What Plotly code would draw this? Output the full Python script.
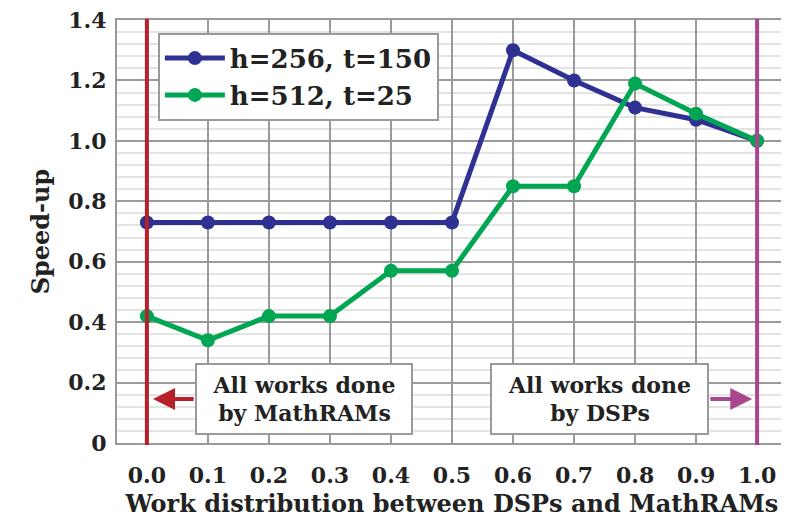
import plotly.graph_objects as go

x_vals = [0.0, 0.1, 0.2, 0.3, 0.4, 0.5, 0.6, 0.7, 0.8, 0.9, 1.0]
speedup_h256 = [0.73, 0.73, 0.73, 0.73, 0.73, 0.73, 1.30, 1.20, 1.11, 1.07, 1.00]
speedup_h512 = [0.42, 0.34, 0.42, 0.42, 0.57, 0.57, 0.85, 0.85, 1.19, 1.09, 1.00]
series_names = ["h=256, t=150", "h=512, t=25"]
x_ticklabels = ["0.0", "0.1", "0.2", "0.3", "0.4", "0.5", "0.6", "0.7", "0.8", "0.9", "1.0"]
y_tickvals = [0, 0.2, 0.4, 0.6, 0.8, 1.0, 1.2, 1.4]
y_ticklabels = ["0", "0.2", "0.4", "0.6", "0.8", "1.0", "1.2", "1.4"]

FONT = "DejaVu Serif"
BLUE = "#2e3192"
GREEN = "#00a651"
RED = "#b5202a"
MAGENTA = "#a8478e"
GRID = "#9a9a9a"
TXT = "#222"

fig = go.Figure()

# vertical reference lines
fig.add_shape(type="line", xref="x", yref="paper", x0=0, x1=0, y0=-0.005, y1=1.003,
              line=dict(color=RED, width=4), layer="above")
fig.add_shape(type="line", xref="x", yref="paper", x0=1, x1=1, y0=-0.005, y1=1.003,
              line=dict(color=MAGENTA, width=4), layer="above")

fig.add_trace(go.Scatter(x=x_vals, y=speedup_h256, name=series_names[0], mode="lines+markers",
                         line=dict(color=BLUE, width=5), marker=dict(size=14, color=BLUE)))
fig.add_trace(go.Scatter(x=x_vals, y=speedup_h512, name=series_names[1], mode="lines+markers",
                         line=dict(color=GREEN, width=5), marker=dict(size=14, color=GREEN)))

ann_font = dict(family=FONT, size=22, color=TXT, weight="bold")
fig.add_annotation(x=0.257, y=0.146, xref="x", yref="y", text="All works done<br>by MathRAMs",
                   showarrow=False, font=ann_font, bgcolor="white", bordercolor=GRID,
                   borderwidth=2, width=212, height=66, borderpad=1)
fig.add_annotation(x=0.742, y=0.146, xref="x", yref="y", text="All works done<br>by DSPs",
                   showarrow=False, font=ann_font, bgcolor="white", bordercolor=GRID,
                   borderwidth=2, width=213, height=66, borderpad=1)
# arrows
fig.add_annotation(x=0.01, y=0.146, ax=0.079, ay=0.146, xref="x", yref="y", axref="x", ayref="y",
                   text="", showarrow=True, arrowhead=2, arrowsize=1.1, arrowwidth=4, arrowcolor=RED,
                   standoff=0, startstandoff=0)
fig.add_annotation(x=0.992, y=0.146, ax=0.921, ay=0.146, xref="x", yref="y", axref="x", ayref="y",
                   text="", showarrow=True, arrowhead=2, arrowsize=1.1, arrowwidth=4, arrowcolor=MAGENTA,
                   standoff=0, startstandoff=0)

fig.update_layout(
    width=781, height=515,
    margin=dict(l=109, r=2, t=12, b=80, autoexpand=False),
    paper_bgcolor="white", plot_bgcolor="white",
    font=dict(family=FONT, color=TXT),
    legend=dict(x=0.061, y=0.97, xanchor="left", yanchor="top",
                bgcolor="white", bordercolor=GRID, borderwidth=2,
                font=dict(family=FONT, size=26, color=TXT, weight="bold"),
                itemwidth=60, tracegroupgap=0),
    showlegend=True,
)
fig.update_xaxes(
    range=[-0.049, 1.049], tickvals=x_vals, ticktext=x_ticklabels, automargin=False,
    tickfont=dict(family=FONT, size=22, color=TXT, weight="bold"),
    showgrid=True, gridcolor=GRID, gridwidth=2, zeroline=False,
    showline=True, linecolor=GRID, linewidth=2, mirror=True,
    ticks="outside", ticklen=12, tickcolor="rgba(0,0,0,0)", ticklabeloverflow="allow",
    title=dict(text="Work distribution between DSPs and MathRAMs",
               font=dict(family=FONT, size=24, color=TXT, weight="bold"), standoff=8),
)
fig.update_yaxes(
    range=[0, 1.4], tickvals=y_tickvals, ticktext=y_ticklabels, automargin=False,
    tickfont=dict(family=FONT, size=22, color=TXT, weight="bold"),
    showgrid=True, gridcolor=GRID, gridwidth=2, zeroline=False,
    showline=True, linecolor=GRID, linewidth=2, mirror=True,
    ticks="outside", ticklen=4, tickcolor="rgba(0,0,0,0)", ticklabeloverflow="allow",
    minor=dict(dtick=0.04, showgrid=True, gridcolor="#e3e3e3", gridwidth=2, ticks=""),
    title=dict(text="Speed-up", font=dict(family=FONT, size=24, color=TXT, weight="bold"), standoff=12),
)

fig.write_html("out.html")
